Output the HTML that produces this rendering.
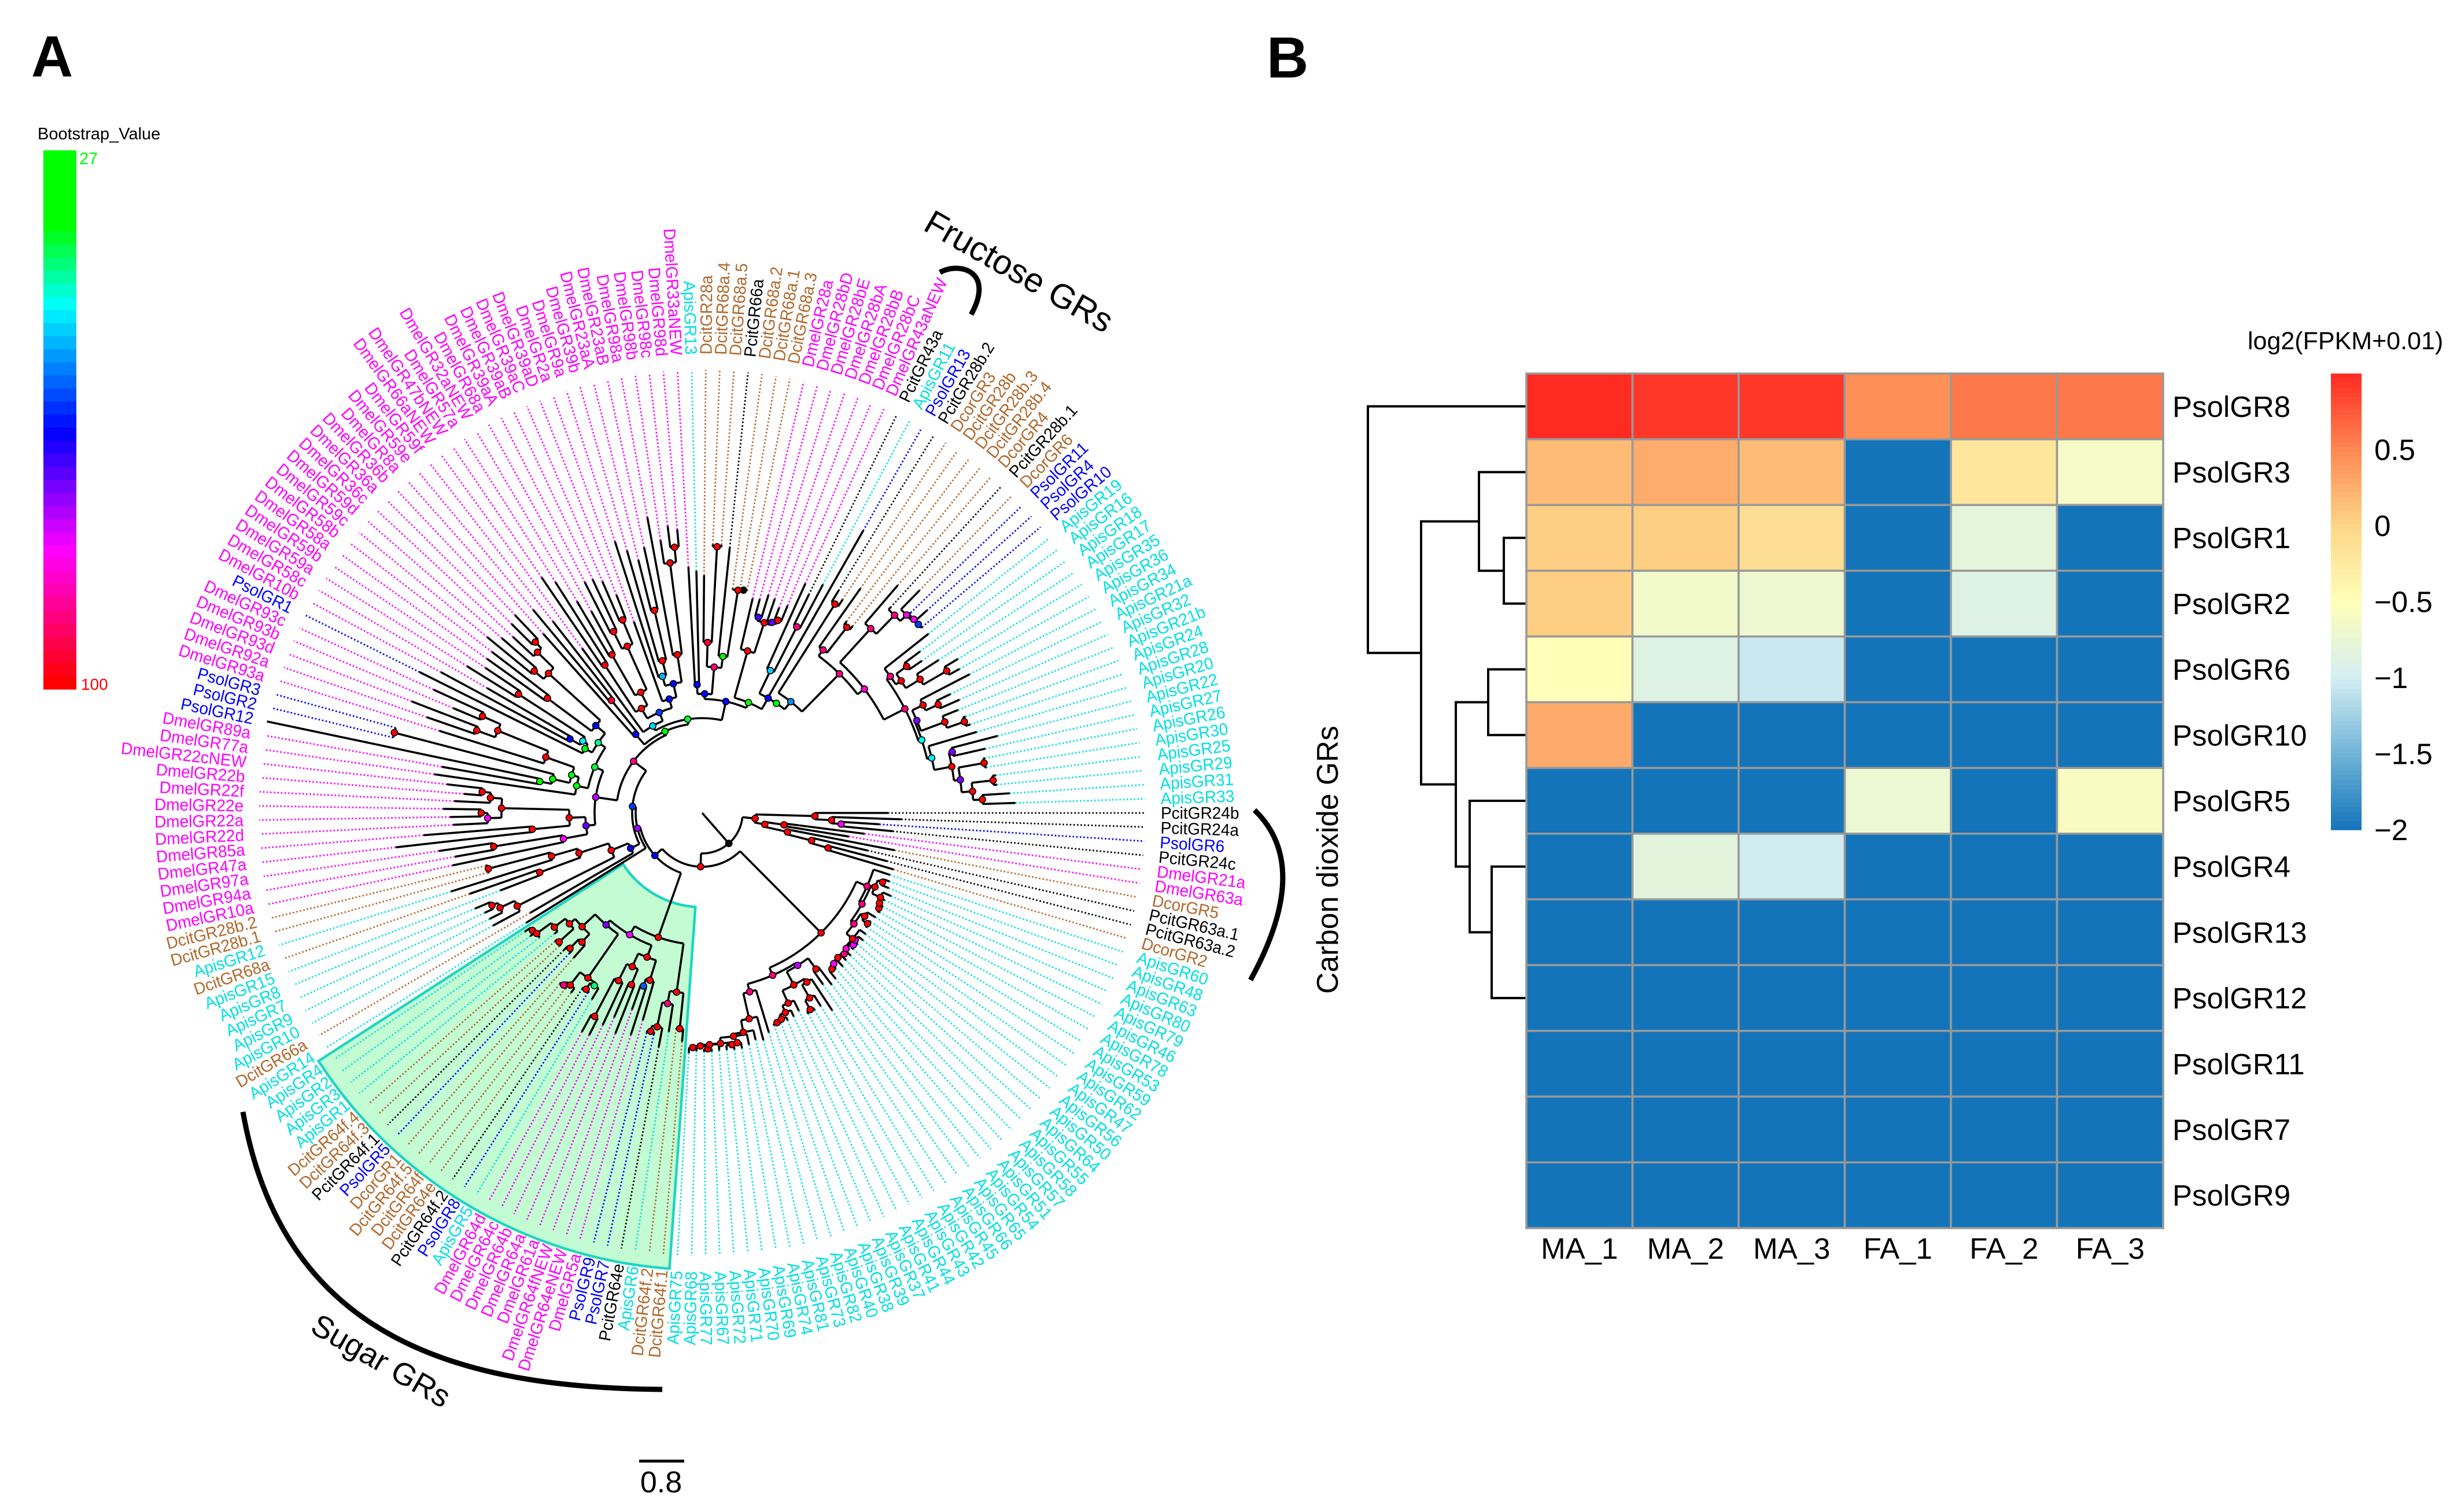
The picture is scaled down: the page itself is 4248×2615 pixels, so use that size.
<!DOCTYPE html>
<html lang="en">
<head>
<meta charset="utf-8">
<title>Gustatory receptor phylogeny and expression heatmap</title>
<style>
html,body{margin:0;padding:0;background:#fff;}
svg{display:block;font-family:"Liberation Sans",Arial,sans-serif;}
</style>
</head>
<body>
<svg id="figure" xmlns="http://www.w3.org/2000/svg" width="4248" height="2615" viewBox="0 0 4248 2615">
  <rect width="4248" height="2615" fill="#fff"/>
  <text x="54" y="132" font-size="100" font-weight="bold">A</text>
  <text x="2190" y="134" font-size="100" font-weight="bold">B</text>
  <text x="65" y="241" font-size="29">Bootstrap_Value</text>
  <text x="137" y="284" font-size="29" fill="#00ff00">27</text>
  <text x="140" y="1193" font-size="28" fill="#ff0000">100</text>
  <g id="bootstrap-legend"></g>
  <g id="wedge-layer"></g>
  <g id="dot-layer"></g>
  <g id="branch-layer"></g>
  <g id="node-layer"></g>
  <g id="label-layer"></g>

  <path d="M1625 471 C1660 452 1720 470 1679 544" fill="none" stroke="#000" stroke-width="9"/>
  <path d="M2169 1401 Q2270 1498 2162 1695" fill="none" stroke="#000" stroke-width="9"/>
  <path d="M420 1923 C490 2320 800 2400 1145 2403" fill="none" stroke="#000" stroke-width="9"/>
  <text transform="translate(1762 469) rotate(29.7)" text-anchor="middle" dy=".35em" font-size="59">Fructose GRs</text>
  <text transform="translate(659 2353) rotate(30)" text-anchor="middle" dy=".35em" font-size="54">Sugar GRs</text>
  <text transform="translate(2295 1487) rotate(-90)" text-anchor="middle" dy=".35em" font-size="51.5">Carbon dioxide GRs</text>
  <line x1="1105" y1="2527" x2="1183" y2="2527" stroke="#000" stroke-width="5"/>
  <text x="1143" y="2581" text-anchor="middle" font-size="52">0.8</text>

  <g id="dendrogram"></g>
  <g id="heatmap"></g>
  <g id="row-labels"></g>
  <g id="col-labels"></g>
  <g id="colorbar"></g>
  <text x="3886" y="604" font-size="43">log2(FPKM+0.01)</text>
</svg>

<script>
/* ---------- Panel A data ---------- */
const leafNames = ["PcitGR24b","PcitGR24a","PsolGR6","PcitGR24c","DmelGR21a","DmelGR63a","DcorGR5","PcitGR63a.1","PcitGR63a.2","DcorGR2",
"ApisGR60","ApisGR48","ApisGR63","ApisGR80","ApisGR79","ApisGR46","ApisGR78","ApisGR53","ApisGR59","ApisGR62",
"ApisGR47","ApisGR56","ApisGR50","ApisGR64","ApisGR55","ApisGR58","ApisGR57","ApisGR51","ApisGR54","ApisGR65",
"ApisGR66","ApisGR45","ApisGR42","ApisGR43","ApisGR44","ApisGR41","ApisGR37","ApisGR39","ApisGR38","ApisGR40",
"ApisGR82","ApisGR73","ApisGR81","ApisGR74","ApisGR69","ApisGR70","ApisGR71","ApisGR72","ApisGR67","ApisGR77",
"ApisGR68","ApisGR75","DcitGR64f.1","DcitGR64f.2","ApisGR6","PcitGR64e","PsolGR7","PsolGR9","DmelGR5a","DmelGR64eNEW",
"DmelGR64fNEW","DmelGR61a","DmelGR64a","DmelGR64b","DmelGR64c","DmelGR64d","ApisGR5","PsolGR8","PcitGR64f.2","DcitGR64e",
"DcitGR64f","DcitGR64f.5","DcorGR1","PsolGR5","PcitGR64f.1","DcitGR64f.3","DcitGR64f.4","ApisGR1","ApisGR3","ApisGR2",
"ApisGR4","ApisGR14","DcitGR66a","ApisGR10","ApisGR9","ApisGR7","ApisGR8","ApisGR15","DcitGR68a","ApisGR12",
"DcitGR28b.1","DcitGR28b.2","DmelGR10a","DmelGR94a","DmelGR97a","DmelGR47a","DmelGR85a","DmelGR22d","DmelGR22a","DmelGR22e",
"DmelGR22f","DmelGR22b","DmelGR22cNEW","DmelGR77a","DmelGR89a","PsolGR12","PsolGR2","PsolGR3","DmelGR93a","DmelGR92a",
"DmelGR93d","DmelGR93b","DmelGR93c","PsolGR1","DmelGR10b","DmelGR58c","DmelGR59a","DmelGR59b","DmelGR58a","DmelGR58b",
"DmelGR59c","DmelGR59d","DmelGR36c","DmelGR36a","DmelGR36b","DmelGR8a","DmelGR59e","DmelGR59f","DmelGR66aNEW","DmelGR47bNEW",
"DmelGR57a","DmelGR32aNEW","DmelGR68a","DmelGR39aA","DmelGR39aB","DmelGR39aC","DmelGR39aD","DmelGR2a","DmelGR9a","DmelGR39b",
"DmelGR23aA","DmelGR23aB","DmelGR98a","DmelGR98b","DmelGR98c","DmelGR98d","DmelGR33aNEW","ApisGR13","DcitGR28a","DcitGR68a.4",
"DcitGR68a.5","PcitGR66a","DcitGR68a.2","DcitGR68a.1","DcitGR68a.3","DmelGR28a","DmelGR28bD","DmelGR28bE","DmelGR28bA","DmelGR28bB",
"DmelGR28bC","DmelGR43aNEW","PcitGR43a","ApisGR11","PsolGR13","PcitGR28b.2","DcorGR3","DcitGR28b","DcitGR28b.3","DcitGR28b.4",
"DcorGR4","PcitGR28b.1","DcorGR6","PsolGR11","PsolGR4","PsolGR10","ApisGR19","ApisGR16","ApisGR18","ApisGR17",
"ApisGR35","ApisGR36","ApisGR34","ApisGR21a","ApisGR32","ApisGR21b","ApisGR24","ApisGR28","ApisGR20","ApisGR22",
"ApisGR27","ApisGR26","ApisGR30","ApisGR25","ApisGR29","ApisGR31","ApisGR33"];

/* Clades: [divergence, bootstrap, ...children]; a bare number is a tip's divergence. Tips are read in leafNames order. */
const co2Clade = [92,100,[195,100,321,[224,100,344.5,[241,82,307,331]]],[110,100,[143,100,283,257],[151,100,339,[195,100,293,[226,100,330,345]]]]];
const apisClade = [292,100,
  [312,91,342,[318,91,
    [325,100,[334,100,345,348],[341,100,357,[344,100,350,[347,100,352,352]]]],
    [325,91,[333,100,350,[344,100,347,347]],
      [339,100,352,[342,85,[344,82,355,[347,82,352,352]],[343,100,[346,91,356,356],[346,82,360,[351,100,355,368]]]]]]]],
  [306,91,
    [311,78,[334,100,372,363],[337,100,[344,100,409,[370,100,392,[388,100,393,393]]],[361,100,381,[374,100,386,[382,100,388,[385,100,388,388]]]]]],
    [320,91,397,[365,100,407,[386,100,403,[390,100,409,[400,100,[404,100,[402,100,413,413],412],[401,100,412,[403,100,[408,100,413,413],[406,100,412,416]]]]]]]]]];
const sugarClade = [228,100,
  [313,100,[375,100,397,376],[335,91,383,[378,100,411,[388,100,392,392]]]],
  [245,82,
    [267,100,[303,100,372.6,[316,60,403,361]],[292,100,[321,100,410,385],[324,100,405,[398,100,431,432]]]],
    [255,74,
      [347,100,[352,43,375,[365,100,368,368]],[375,100,385,[382,91,385,385]]],
      [286,100,[305,100,335,[327,100,334,337]],[299,100,[333,100,338,338],[323,100,330,[354,100,355,[357,100,366,369]]]]]]]];
const cladeH = [138,66,344,[170,100,[358,100,411,[386,100,411,[397,100,414,426]]],[224,100,[299,100,374,426],[271,100,455,[382,100,385,385]]]]];
const cladeX = [202,72,[244,82,441,[365,100,434,460]],[230,100,[295,100,533,483],[347,100,[371,82,431,[382,100,436,448]],[367,100,429,[382,100,413,444]]]]];
const cladeYa = [222,36,468,[235,36,[265,36,[286,36,457,769],[550,100,550,550]],[287,100,476,[381,100,[415,100,504,538],[415,100,467,511]]]]];
const cladeYb = [217,44,[231,36,546,[241,50,[262,66,513,430],[378,100,479,451]]],[238,66,[333,100,458,458],[359,100,[380,100,480,460],[398,100,447,[413,100,464,471]]]]];
const cladeR = [178,66,414,[250,97,457,420]];
const cladeV = [173,52,352,[189,62,
  [209,100,[306,100,493,473],[234,100,[315,100,425,398],[316,100,[349,100,448,446],[361,100,436,405]]]],
  [205,66,351,[229,66,[246,54,493,[272,100,472,[360,100,451,470]]],[277,100,520,[436,100,477,[462,100,500,492]]]]]]];
const cladeUa = [206,66,[222,66,426,419],[253,91,[295,97,411,[461,100,465,465]],[273,35,461,[390,100,392,[392,0,393,393]]]]];
const cladeUb1 = [291,100,381,[346,100,[352,70,383,394],[351,72,391,[358,100,379,388]]]];
const cladeUb2 = [353,85,
  [432,91,519,[477,91,482,[492,82,538,[496,82,500,[496,62,523,498]]]]],
  [394,91,
    [402,91,499,[413,100,[435,100,469,462],[442,100,487,[489,100,516,510]]]],
    [400,49,
      [404,74,[425,100,521,[449,100,476,486]],[448,100,477,[480,100,485,488]]],
      [408,50,495,[439,100,[445,74,528,502],[450,74,[495,100,498,498],[469,100,[506,100,512,512],[485,100,533,542]]]]]]]];
const cladeU = [197,66,cladeUa,[207,35,cladeUb1,[229,66,[273,52,435,[361,91,420,447]],[229,35,562,[246,56,[428,100,451,442],[338,91,[351,91,475,[407,100,415,415]],cladeUb2]]]]]];
const innerClade = [110,66,sugarClade,[115,76,359,[121,62,cladeH,[148.6,91,[186,78,cladeX,[202,41,cladeYa,cladeYb]],[155,36,cladeR,[164,40,cladeV,cladeU]]]]]];
const treeRoot = [70,0,co2Clade,[93,100,apisClade,innerClade]];

const bootstrapStops = [38,49,66,82,100];
const bootstrapColors = [[0,255,0],[0,255,255],[0,0,255],[255,0,255],[255,0,0]];
const sugarFirstLeaf = 53;
const sugarLastLeaf = 81;

/* ---------- Panel B data ---------- */
const rowLabels = ["PsolGR8","PsolGR3","PsolGR1","PsolGR2","PsolGR6","PsolGR10","PsolGR5","PsolGR4","PsolGR13","PsolGR12","PsolGR11","PsolGR7","PsolGR9"];
const colLabels = ["MA_1","MA_2","MA_3","FA_1","FA_2","FA_3"];
const expression = [
 [1,0.93,0.93,0.45,0.58,0.58],
 [0.17,0.27,0.17,-2,-0.2,-0.62],
 [0.05,0.05,-0.1,-2,-0.8,-2],
 [0.05,-0.65,-0.7,-2,-0.88,-2],
 [-0.5,-0.88,-1.05,-2,-2,-2],
 [0.28,-2,-2,-2,-2,-2],
 [-2,-2,-2,-0.72,-2,-0.58],
 [-2,-0.82,-1.02,-2,-2,-2],
 [-2,-2,-2,-2,-2,-2],
 [-2,-2,-2,-2,-2,-2],
 [-2,-2,-2,-2,-2,-2],
 [-2,-2,-2,-2,-2,-2],
 [-2,-2,-2,-2,-2,-2]];
const colorTicks = [0.5,0,-0.5,-1,-1.5,-2];
const heatStops = [-2,-1.5,-1,-0.5,0,0.5,1];
const heatColors = [[20,116,186],[112,180,216],[212,238,242],[255,255,185],[254,214,136],[254,136,82],[255,42,34]];
/* Dendrogram: [height, child, child]; a bare number is a row index. */
const rowTree = [274,0,[182,[82,1,[39,2,3]],[122,[66,4,5],[98,6,[60,7,9]]]]];

/* ---------- Helpers ---------- */
const NS = "http://www.w3.org/2000/svg";
function add(parent, tag, attrs, txt){
  const el = document.createElementNS(NS, tag);
  for (const k in attrs) el.setAttribute(k, attrs[k]);
  if (txt !== undefined) el.textContent = txt;
  parent.appendChild(el);
  return el;
}
function lerpColor(v, stops, cols){
  if (v <= stops[0]) return cols[0];
  for (let i = 1; i < stops.length; i++){
    if (v <= stops[i]){
      const t = (v - stops[i-1]) / (stops[i] - stops[i-1]);
      return cols[i-1].map((c,j) => Math.round(c + (cols[i][j] - c) * t));
    }
  }
  return cols[cols.length-1];
}
const rgb = c => "rgb(" + c.join(",") + ")";
function bootstrapColor(v){
  return v === 0 ? "#000" : rgb(lerpColor(v, bootstrapStops, bootstrapColors));
}

/* ---------- Tree scales ---------- */
const cx = 1214, cy = 1406, guideEnd = 766, labelStart = 793;
const stepAngle = 360 / leafNames.length;
const angleOf = i => i * stepAngle;
const radiusOf = d => d;
function polar(d, a){
  const t = a * Math.PI / 180, r = radiusOf(d);
  return [cx + r * Math.cos(t), cy + r * Math.sin(t)];
}
function speciesColor(n){
  const p = n.slice(0,4);
  if (p === "Dmel") return "#ff00ff";
  if (p === "Apis") return "#00e0e0";
  if (p === "Psol") return "#0000ff";
  if (p === "Pcit") return "#000000";
  return "#b0682c";
}
const f1 = n => n.toFixed(1);

/* ---------- Bootstrap legend ---------- */
(function(){
  const g = document.getElementById("bootstrap-legend");
  const legendY = v => 260 + (v - 27) / 73 * 932;
  const top = add(g, "rect", {x:75, y:legendY(27), width:57, height:legendY(38)-legendY(27)+1, fill:bootstrapColor(27)});
  
  
  const n = 35;
  for (let i = 0; i < n; i++){
    const v0 = 38 + (100-38) * i / n, v1 = 38 + (100-38) * (i+1) / n;
    const b = add(g, "rect", {x:75, y:f1(legendY(v0)), width:57, height:f1(legendY(v1)-legendY(v0)+0.6), fill:bootstrapColor(38 + (100-38) * (i+1) / n)});
    
    
  }
})();

/* ---------- Sugar clade wedge ---------- */
(function(){
  const a0 = angleOf(sugarFirstLeaf - 1) - stepAngle/2, a1 = angleOf(sugarLastLeaf - 1) + stepAngle/2;
  const rIn = 163, rOut = 790;
  const p1 = polar(rOut,a0), p2 = polar(rOut,a1), p3 = polar(rIn,a1), p4 = polar(rIn,a0);
  const w = add(document.getElementById("wedge-layer"), "path", {
    d: "M"+p1.map(f1)+" A"+rOut+" "+rOut+" 0 0 1 "+p2.map(f1)+" L"+p3.map(f1)+" A"+rIn+" "+rIn+" 0 0 0 "+p4.map(f1)+" Z",
    fill:"#c3fbd3", stroke:"#1dd6c0", "stroke-width":4.5, "stroke-linejoin":"miter"});
  
  
})();

/* ---------- Tree ---------- */
(function(){
  const dotG = document.getElementById("dot-layer");
  const brG = document.getElementById("branch-layer");
  const nodeG = document.getElementById("node-layer");
  const labG = document.getElementById("label-layer");
  let leafCursor = 0;
  const markers = [];

  function drawLeaf(d, parentD){
    const i = leafCursor++, a = angleOf(i), name = leafNames[i], col = speciesColor(name);
    const s = polar(parentD,a), e = polar(d,a), g = polar(guideEnd,a);
    const br = add(brG, "line", {x1:f1(s[0]), y1:f1(s[1]), x2:f1(e[0]), y2:f1(e[1]), stroke:"#000", "stroke-width":3.6});
    
    
    if (d < guideEnd){
      const dl = add(dotG, "line", {x1:f1(e[0]), y1:f1(e[1]), x2:f1(g[0]), y2:f1(g[1]), stroke:col, "stroke-width":2.8, "stroke-dasharray":"2.6 3.6"});
      
      
    }
    const p = polar(labelStart,a);
    const flip = a > 90 && a < 270;
    const t = add(labG, "text", {
      transform:"translate("+f1(p[0])+" "+f1(p[1])+") rotate("+(flip ? a-180 : a).toFixed(2)+") scale(.966 1)",
      "text-anchor": flip ? "end" : "start", dy:".35em", "font-size":29, fill:col}, name);
    
    
    return a;
  }
  function drawClade(n, parentD){
    const d = n[0], bs = n[1], kids = n.slice(2);
    const angs = kids.map(k => {
      if (Array.isArray(k)) return drawClade(k, d);
      return drawLeaf(k, d);
    });
    const a0 = angs[0], a1 = angs[angs.length-1], a = (a0 + a1) / 2;
    const r = radiusOf(d), pa = polar(d,a0), pb = polar(d,a1);
    const s = polar(parentD,a), e = polar(d,a);
    const large = (a1 - a0) > 180 ? 1 : 0;
    const path = add(brG, "path", {
      d:"M"+f1(s[0])+" "+f1(s[1])+" L"+f1(e[0])+" "+f1(e[1])+
        " M"+f1(pa[0])+" "+f1(pa[1])+" A"+r+" "+r+" 0 "+large+" 1 "+f1(pb[0])+" "+f1(pb[1]),
      fill:"none", stroke:"#000", "stroke-width":3.6});
    
    
    markers.push([e[0], e[1], bs]);
    return a;
  }
  drawClade(treeRoot, 0);
  markers.forEach(m => {
    const c = add(nodeG, "circle", {cx:f1(m[0]), cy:f1(m[1]), r:5.6, fill:bootstrapColor(m[2]), stroke:"#000", "stroke-width":1.6});
    
    
  });
})();

/* ---------- Heatmap ---------- */
const hmLeft = 2639, hmRight = 3740, hmTop = 646, hmBottom = 2124;
const colW = (hmRight - hmLeft) / colLabels.length, rowH = (hmBottom - hmTop) / rowLabels.length;
const xCol = i => hmLeft + i * colW;
const yRow = i => hmTop + i * rowH;
const heatColor = v => rgb(lerpColor(v, heatStops, heatColors));

(function(){
  const g = document.getElementById("heatmap");
  expression.forEach((row,ri) => row.forEach((v,ci) => {
    const c = add(g, "rect", {x:f1(xCol(ci)), y:f1(yRow(ri)), width:f1(colW), height:f1(rowH), fill:heatColor(v), stroke:"#999", "stroke-width":3.6});
    
    
  }));
  const rg = document.getElementById("row-labels");
  rowLabels.forEach((n,i) => {
    const t = add(rg, "text", {x:3756, y:f1(yRow(i)+rowH/2+18), "font-size":51}, n);
    
    
  });
  const cg = document.getElementById("col-labels");
  colLabels.forEach((n,i) => {
    const t = add(cg, "text", {x:f1(xCol(i)+colW/2), y:2177, "font-size":51, "text-anchor":"middle"}, n);
    
    
  });
})();

/* ---------- Colorbar ---------- */
(function(){
  const g = document.getElementById("colorbar");
  const y = v => 1435 - (v + 2) / 3 * 789;
  const n = 100;
  for (let i = 0; i < n; i++){
    const v = -2 + 3 * (i + 0.5) / n;
    const r = add(g, "rect", {x:4030, y:f1(y(-2 + 3*(i+1)/n)), width:53, height:f1(789/n+0.8), fill:heatColor(v)});
    
    
  }
  colorTicks.forEach(v => {
    const label = (v < 0 ? "\u2212" : "") + Math.abs(v);
    const t = add(g, "text", {x:4105, y:f1(y(v)+18), "font-size":51}, label);
    
    
  });
})();

/* ---------- Dendrogram ---------- */
(function(){
  const g = document.getElementById("dendrogram");
  const xH = h => hmLeft - h;
  function walk(n){
    if (!Array.isArray(n)) return {y: yRow(n) + rowH/2, h: 0};
    const a = walk(n[1]), b = walk(n[2]), x = xH(n[0]);
    const p = add(g, "path", {
      d:"M"+xH(a.h)+" "+f1(a.y)+" H"+x+" V"+f1(b.y)+" H"+xH(b.h),
      fill:"none", stroke:"#000", "stroke-width":4, "stroke-linejoin":"miter"});
    
    
    return {y:(a.y+b.y)/2, h:n[0]};
  }
  walk(rowTree);
})();
</script>
</body>
</html>
